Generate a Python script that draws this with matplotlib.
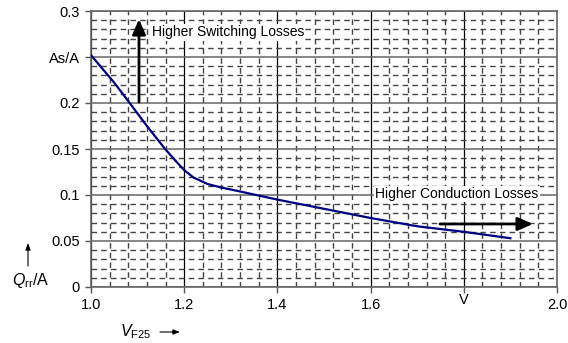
import numpy as np
import matplotlib.pyplot as plt
from matplotlib.ticker import MultipleLocator

plt.rcParams['font.family'] = ['Liberation Sans', 'DejaVu Sans']
plt.rcParams['mathtext.fontset'] = 'custom'
plt.rcParams['mathtext.rm'] = 'Liberation Sans'
plt.rcParams['mathtext.it'] = 'Liberation Sans:italic'

# forward voltage (V) vs recovery charge per ampere (As/A)
vf = [1.0, 1.02, 1.05, 1.083, 1.12, 1.159, 1.18, 1.2, 1.22, 1.25, 1.28, 1.3, 1.4, 1.5, 1.6, 1.7, 1.8, 1.9]
qrr = [0.252, 0.240, 0.222, 0.200, 0.175, 0.150, 0.138, 0.127, 0.119, 0.112, 0.108, 0.106,
       0.095, 0.085, 0.075, 0.066, 0.060, 0.053]

xticks = [1.0, 1.2, 1.4, 1.6, 1.8, 2.0]
xlabels = ['1.0', '1.2', '1.4', '1.6', 'V', '2.0']
yticks = [0, 0.05, 0.1, 0.15, 0.2, 0.25, 0.3]
ylabels = ['0', '0.05', '0.1', '0.15', '0.2', 'As/A', '0.3']

fig = plt.figure(figsize=(5.68, 3.43), dpi=100)
ax = fig.add_axes([91 / 568, 1 - 287 / 343, 466 / 568, 276 / 343])

ax.set_xlim(1.0, 2.0)
ax.set_ylim(0, 0.3)
ax.set_xticks(xticks)
ax.set_xticklabels(xlabels)
ax.set_yticks(yticks)
ax.set_yticklabels(ylabels)
ax.xaxis.set_minor_locator(MultipleLocator(0.04))
ax.yaxis.set_minor_locator(MultipleLocator(0.01))

ax.grid(which='minor', color='#444444', lw=1.0, ls=(0, (4, 3)))
ax.grid(which='major', axis='x', color='black', lw=0.9)
ax.grid(which='major', axis='y', color='#666666', lw=1.1)
ax.tick_params(which='major', direction='out', length=4, width=1, color='#555555',
               labelsize=10.5, pad=4)
ax.tick_params(which='minor', length=0)
for s in ax.spines.values():
    s.set_color('#666666')
    s.set_linewidth(1.2)
# the "V" unit label sits a bit higher
for lab in ax.get_xticklabels():
    if lab.get_text() == 'V':
        lab.set_y(0.02)

ax.plot(vf, qrr, color='#000080', lw=1.6, zorder=4)

bold = dict(arrowstyle='-|>,head_width=0.4,head_length=0.9', color='black', lw=2,
            shrinkA=0, shrinkB=0)
ax.annotate('', xy=(1.103, 0.291), xytext=(1.103, 0.201), arrowprops=bold, zorder=5)
ax.annotate('', xy=(1.948, 0.0685), xytext=(1.749, 0.0685), arrowprops=bold, zorder=5)
ax.text(1.13, 0.277, 'Higher Switching Losses', fontsize=10, va='center', ha='left',
        bbox=dict(facecolor='white', edgecolor='none', pad=1), zorder=5)
ax.text(1.61, 0.101, 'Higher Conduction Losses', fontsize=10, va='center', ha='left',
        bbox=dict(facecolor='white', edgecolor='none', pad=1), zorder=5)

# axis labels with their small arrows (figure fraction coords)
thin = dict(arrowstyle='-|>,head_width=0.15,head_length=0.4', color='black', lw=0.8,
            shrinkA=0, shrinkB=0)
fig.text(12 / 568, 1 - 280 / 343, r'$Q_{\rm rr}$/A', fontsize=11.5, ha='left', va='center')
ax.annotate('', xy=(28 / 568, 1 - 243 / 343), xytext=(28 / 568, 1 - 266 / 343),
            xycoords='figure fraction', textcoords='figure fraction', arrowprops=thin)
fig.text(120 / 568, 1 - 332 / 343, r'$V_{\rm F25}$', fontsize=11.5, ha='left', va='center')
ax.annotate('', xy=(180 / 568, 1 - 332 / 343), xytext=(160 / 568, 1 - 332 / 343),
            xycoords='figure fraction', textcoords='figure fraction', arrowprops=thin)

fig.savefig('out.png', dpi=100)
